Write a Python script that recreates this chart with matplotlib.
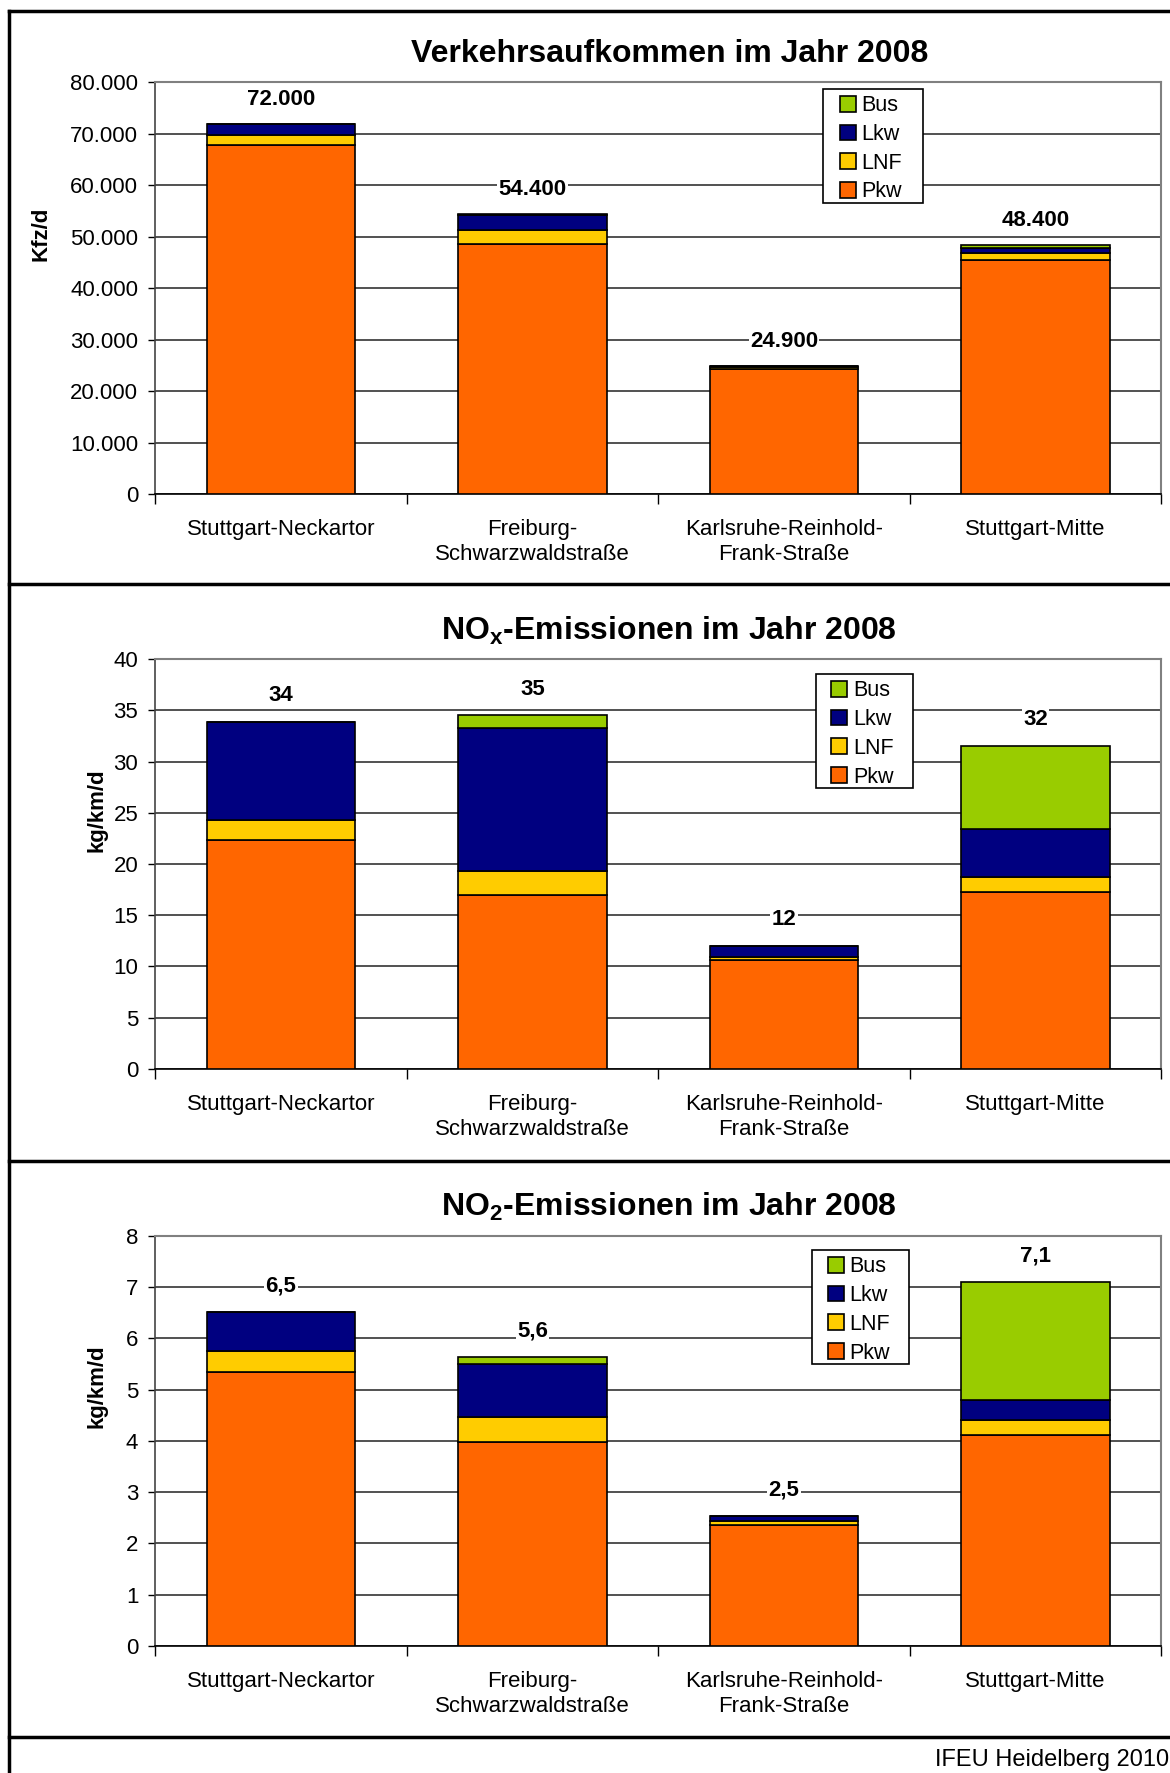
import matplotlib
matplotlib.use('Agg')
import matplotlib.pyplot as plt
from matplotlib.lines import Line2D
from matplotlib.patches import Rectangle
import numpy as np

plt.rcParams['font.family'] = ['Liberation Sans', 'DejaVu Sans']
plt.rcParams['mathtext.fontset'] = 'custom'
plt.rcParams['mathtext.rm'] = 'Liberation Sans'
plt.rcParams['mathtext.bf'] = 'Liberation Sans:bold'

# Daten
standorte = ['Stuttgart-Neckartor', 'Freiburg-\nSchwarzwaldstraße',
             'Karlsruhe-Reinhold-\nFrank-Straße', 'Stuttgart-Mitte']
kategorien = ['Pkw', 'LNF', 'Lkw', 'Bus']
farben = ['#FF6600', '#FFCC00', '#000080', '#99CC00']

# Verkehrsaufkommen (Kfz/d)
vk_pkw = [67800, 48600, 24300, 45500]
vk_lnf = [1900, 2800, 400, 1400]
vk_lkw = [2200, 2900, 200, 900]
vk_bus = [100, 100, 0, 600]

# NOx-Emissionen (kg/km/d)
nox_pkw = [22.3, 17.0, 10.6, 17.3]
nox_lnf = [2.0, 2.35, 0.3, 1.4]
nox_lkw = [9.6, 13.9, 1.1, 4.75]
nox_bus = [0.0, 1.3, 0.04, 8.1]

# NO2-Emissionen (kg/km/d)
no2_pkw = [5.34, 3.97, 2.36, 4.11]
no2_lnf = [0.42, 0.49, 0.08, 0.30]
no2_lkw = [0.75, 1.04, 0.10, 0.38]
no2_bus = [0.0, 0.14, 0.0, 2.31]


def fmt_tsd(v):
    return f'{v:,.0f}'.replace(',', '.')


def fmt_int(v):
    return f'{v:.0f}'


def fmt_dez(v):
    return f'{v:.1f}'.replace('.', ',')


# leg = (mitte x, mitte y, breite, hoehe) in Achsenkoordinaten
panels = [
    dict(titel='Verkehrsaufkommen im Jahr 2008', ylabel='Kfz/d',
         werte=[vk_pkw, vk_lnf, vk_lkw, vk_bus], ymax=80000, step=10000,
         tickfmt=fmt_tsd, labelfmt=fmt_tsd, off=17.5,
         leg=(0.7137, 0.8457, 0.0994, 0.277),
         ylx=-0.103, rect=[0.1325, 0.7214, 0.86, 0.2321]),
    dict(titel=r'NO$_\mathbf{x}$-Emissionen im Jahr 2008', ylabel='kg/km/d',
         werte=[nox_pkw, nox_lnf, nox_lkw, nox_bus], ymax=40, step=5,
         tickfmt=fmt_int, labelfmt=fmt_int, off=18.5,
         leg=(0.705, 0.8244, 0.0964, 0.278),
         ylx=-0.047, rect=[0.1325, 0.3971, 0.86, 0.2312]),
    dict(titel=r'NO$_\mathbf{2}$-Emissionen im Jahr 2008', ylabel='kg/km/d',
         werte=[no2_pkw, no2_lnf, no2_lkw, no2_bus], ymax=8, step=1,
         tickfmt=fmt_int, labelfmt=fmt_dez, off=18.5,
         leg=(0.7013, 0.8258, 0.0964, 0.278),
         ylx=-0.047, rect=[0.1325, 0.0716, 0.86, 0.2315]),
]

fig = plt.figure(figsize=(11.7, 17.73), dpi=100)

x = np.arange(len(standorte))
for p in panels:
    ax = fig.add_axes(p['rect'])
    bottom = np.zeros(len(standorte))
    handles = []
    for werte, name, farbe in zip(p['werte'], kategorien, farben):
        b = ax.bar(x, werte, width=0.59, bottom=bottom, color=farbe,
                   edgecolor='black', linewidth=1.2, label=name, zorder=3)
        handles.append(b)
        bottom = bottom + np.array(werte)

    for i, total in enumerate(bottom):
        ax.annotate(p['labelfmt'](total), xy=(i, total), xytext=(0, p['off']),
                    textcoords='offset points', ha='center', va='center',
                    fontsize=16, fontweight='bold', zorder=5,
                    bbox=dict(facecolor='white', edgecolor='none', pad=1))

    ax.set_xlim(-0.5, 3.5)
    ax.set_ylim(0, p['ymax'])
    yt = np.arange(0, p['ymax'] + p['step'] / 2, p['step'])
    ax.set_yticks(yt)
    ax.set_yticklabels([p['tickfmt'](v) for v in yt], fontsize=16)
    ax.yaxis.grid(True, color='#222222', linewidth=1.1, zorder=0)
    ax.set_axisbelow(True)

    ax.set_xticks(x)
    ax.set_xticklabels(standorte, fontsize=16, linespacing=1.25)
    ax.set_xticks([-0.5, 0.5, 1.5, 2.5, 3.5], minor=True)
    ax.tick_params(axis='x', which='major', length=0, pad=18)
    ax.tick_params(axis='x', which='minor', length=7, width=1, direction='out')
    ax.tick_params(axis='y', length=5, width=1, direction='out', pad=7)

    for s in ['top', 'right']:
        ax.spines[s].set_color('#808080')
        ax.spines[s].set_linewidth(1.5)
    ax.spines['left'].set_color('#444444')
    ax.spines['bottom'].set_color('black')
    ax.spines['left'].set_linewidth(1.2)
    ax.spines['bottom'].set_linewidth(1.2)

    ax.set_ylabel(p['ylabel'], fontsize=16, fontweight='bold')
    ax.yaxis.set_label_coords(p['ylx'], 0.632)

    ax.text(0.511, 1.069, p['titel'], transform=ax.transAxes, ha='center',
            va='center', fontsize=23, fontweight='bold')

    cx, cy, w, h = p['leg']
    ax.add_patch(Rectangle((cx - w / 2, cy - h / 2), w, h, transform=ax.transAxes,
                           facecolor='white', edgecolor='black', linewidth=1.2,
                           zorder=6, clip_on=False))
    leg = ax.legend(handles[::-1], kategorien[::-1], loc='center',
                    bbox_to_anchor=(cx - 0.002, cy - 0.007), fontsize=15.5,
                    frameon=False, handlelength=0.75, handleheight=0.75,
                    handletextpad=0.25, labelspacing=0.36, borderpad=0.1,
                    borderaxespad=0)
    leg.set_zorder(7)

# Rahmen
rahmen = dict(color='black', linewidth=2.5, transform=fig.transFigure)
fig.add_artist(Line2D([0.0077, 0.0077], [0.0, 0.9938], **rahmen))
fig.add_artist(Line2D([0.0077, 1.0], [0.9938, 0.9938], **rahmen))
for yl in [0.6706, 0.3452, 0.0203]:
    fig.add_artist(Line2D([0.0077, 1.0], [yl, yl], **rahmen))

fig.text(0.999, 0.0073, 'IFEU Heidelberg 2010', ha='right', va='center',
         fontsize=17)

fig.savefig('out.png', dpi=100)
